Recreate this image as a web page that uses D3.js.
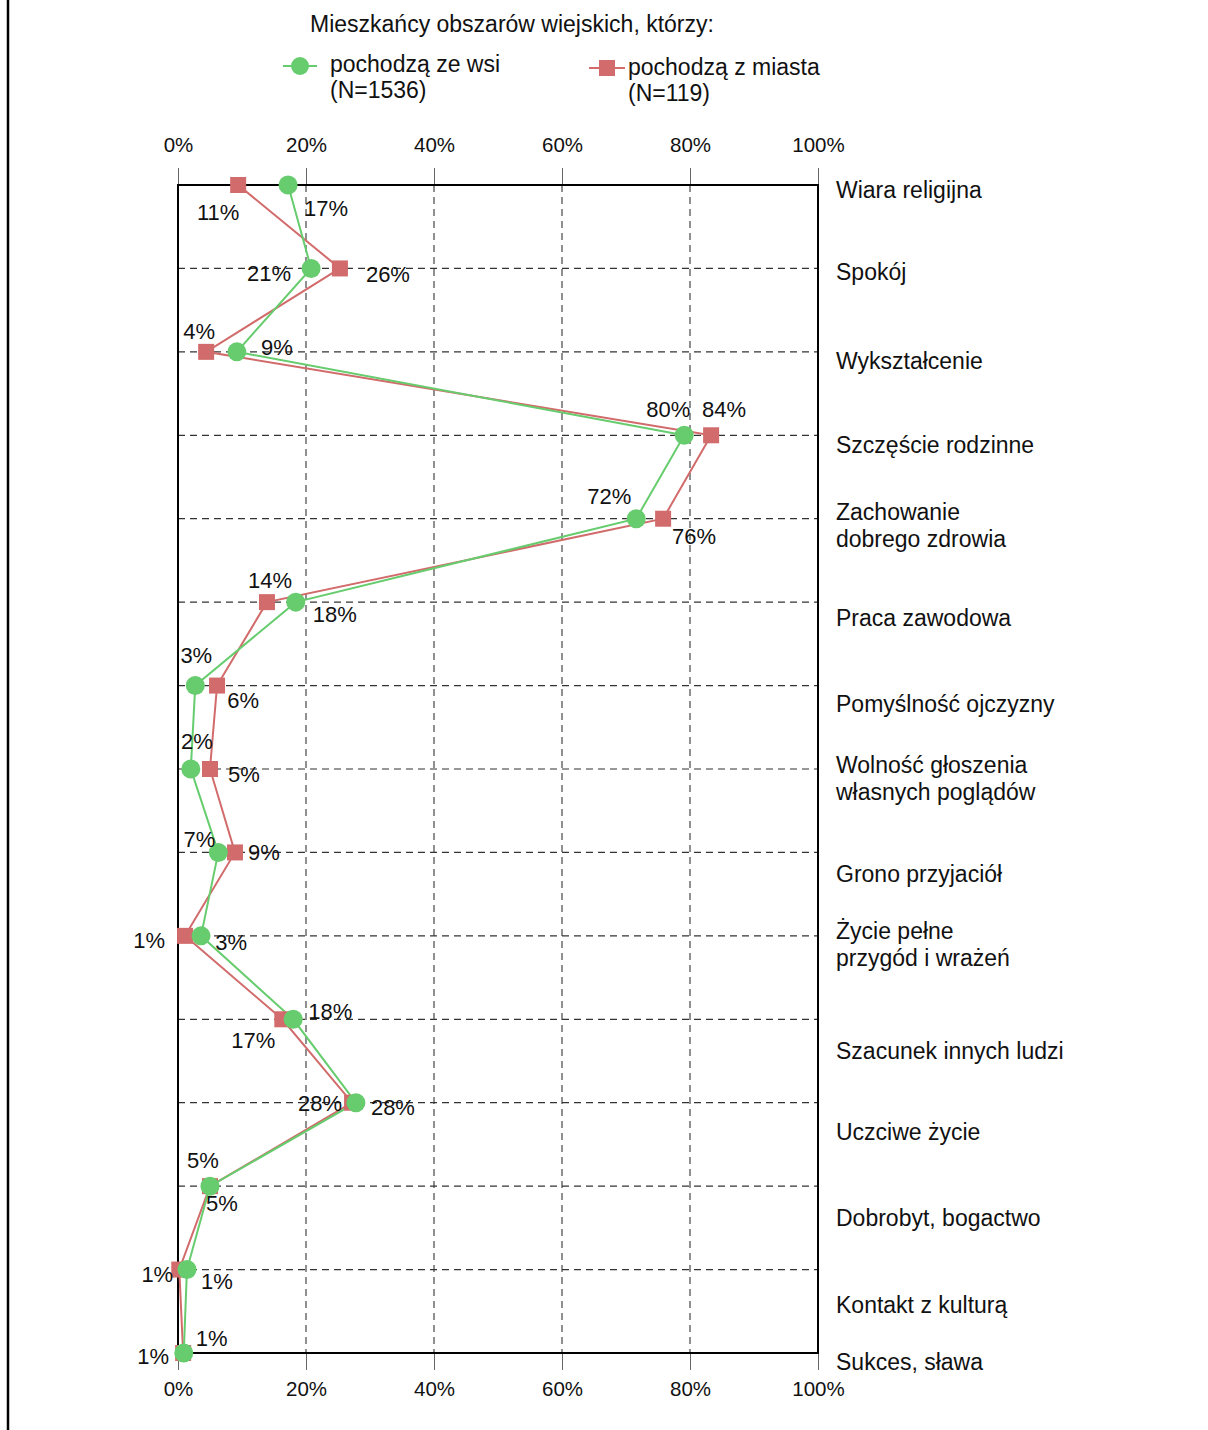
<!DOCTYPE html>
<html>
<head>
<meta charset="utf-8">
<script src="https://cdn.jsdelivr.net/npm/d3@7"></script>
<style>
  body { margin: 0; background: #fff; }
  text { font-family: "Liberation Sans", Arial, sans-serif; fill: #111; }
</style>
</head>
<body>
<div id="chart"></div>
<script>
// data
const categories = [
  "Wiara religijna", "Spokój", "Wykształcenie", "Szczęście rodzinne",
  "Zachowanie|dobrego zdrowia", "Praca zawodowa", "Pomyślność ojczyzny",
  "Wolność głoszenia|własnych poglądów", "Grono przyjaciół",
  "Życie pełne|przygód i wrażeń", "Szacunek innych ludzi", "Uczciwe życie",
  "Dobrobyt, bogactwo", "Kontakt z kulturą", "Sukces, sława"
];
const wsiValues =    [17.2, 20.8, 9.2, 79.1, 71.6, 18.4, 2.7, 2.0, 6.3, 3.6, 18.0, 27.8, 5.0, 1.4, 0.9];
const miastaValues = [9.4, 25.3, 4.4, 83.3, 75.8, 13.9, 6.1, 5.0, 8.9, 1.1, 16.3, 27.2, 5.0, 0.2, 0.8];
const wsiLabels =    ["17%", "21%", "9%", "80%", "72%", "18%", "3%", "2%", "7%", "3%", "18%", "28%", "5%", "1%", "1%"];
const miastaLabels = ["11%", "26%", "4%", "84%", "76%", "14%", "6%", "5%", "9%", "1%", "17%", "28%", "5%", "1%", "1%"];
const xTicks = [0, 20, 40, 60, 80, 100];

// label placement (px offsets from the marker)
const wsiOff = [[38,23],[-42,5],[40,-5],[-16,-26],[-27,-23],[39,12],[1,-31],[6,-28],[-19,-13],[30,6],[37,-8],[37,4],[12,17],[30,11],[28,-15]];
const miastaOff = [[-20,27],[48,6],[-7,-21],[13,-26],[31,17],[3,-22],[26,14],[34,5],[29,0],[-36,4],[-29,21],[-32,0],[-7,-26],[-22,4],[-30,3]];
const catLabelShift = [5, 4, 9, 10, 7, 16, 18, 9, 22, 9, 32, 29, 32, 35, 9];

const width = 1208, height = 1430;
const margin = { top: 185, right: 390, bottom: 77, left: 178 };
const green = "#66cc6e", red = "#d26b6b";

const svg = d3.select("#chart").append("svg")
  .attr("width", width).attr("height", height);

// left border line
svg.append("line").attr("x1", 8).attr("x2", 8).attr("y1", 0).attr("y2", height)
  .attr("stroke", "#000").attr("stroke-width", 2.5);

const x = d3.scaleLinear().domain([0, 100]).range([margin.left, width - margin.right]);
const y = d3.scalePoint().domain(d3.range(categories.length)).range([margin.top, height - margin.bottom]);

const x0 = x(0), x1 = x(100), y0 = margin.top, y1 = height - margin.bottom;

// grid
const grid = svg.append("g");
grid.selectAll(".vg").data(xTicks.slice(1, -1)).join("line")
  .attr("x1", d => x(d)).attr("x2", d => x(d)).attr("y1", y0).attr("y2", y1)
  .attr("stroke", "#555").attr("stroke-width", 1.3).attr("stroke-dasharray", "7,5");
grid.selectAll(".hg").data(d3.range(1, categories.length - 1)).join("line")
  .attr("x1", x0).attr("x2", x1).attr("y1", d => y(d)).attr("y2", d => y(d))
  .attr("stroke", "#333").attr("stroke-width", 1.2).attr("stroke-dasharray", "7,5");

// axes
svg.append("g").attr("transform", `translate(0,${y0})`)
  .call(d3.axisTop(x).tickValues(xTicks).tickFormat(d => d + "%").tickSize(17).tickPadding(16))
  .call(g => g.select(".domain").remove())
  .call(g => g.selectAll("line").attr("stroke", "#666"))
  .call(g => g.selectAll("text").style("font-size", "20.5px").attr("fill", "#111"));
svg.append("g").attr("transform", `translate(0,${y1})`)
  .call(d3.axisBottom(x).tickValues(xTicks).tickFormat(d => d + "%").tickSize(17).tickPadding(11))
  .call(g => g.select(".domain").remove())
  .call(g => g.selectAll("line").attr("stroke", "#666"))
  .call(g => g.selectAll("text").style("font-size", "20.5px").attr("fill", "#111"));

// frame
svg.append("rect").attr("x", x0).attr("y", y0).attr("width", x1 - x0).attr("height", y1 - y0)
  .attr("fill", "none").attr("stroke", "#000").attr("stroke-width", 2);

// category labels
const cat = svg.append("g");
categories.forEach((c, i) => {
  const lines = c.split("|");
  const t = cat.append("text").attr("x", 836).style("font-size", "23px");
  const top = y(i) + catLabelShift[i] - (lines.length - 1) * 13.5 + 8;
  lines.forEach((l, j) => t.append("tspan").attr("x", 836).attr("y", top + j * 27).text(l));
});

// lines
const line = d3.line().x(d => x(d[0])).y(d => y(d[1]));
svg.append("path").datum(miastaValues.map((v, i) => [v, i]))
  .attr("fill", "none").attr("stroke", red).attr("stroke-width", 2).attr("d", line);
svg.append("path").datum(wsiValues.map((v, i) => [v, i]))
  .attr("fill", "none").attr("stroke", green).attr("stroke-width", 2).attr("d", line);

// markers
svg.selectAll(".sq").data(miastaValues).join("rect")
  .attr("x", d => x(d) - 8).attr("y", (d, i) => y(i) - 8)
  .attr("width", 16).attr("height", 16).attr("fill", red);
svg.selectAll(".ci").data(wsiValues).join("circle")
  .attr("cx", d => x(d)).attr("cy", (d, i) => y(i)).attr("r", 9.5).attr("fill", green);

// value labels
const lab = svg.append("g").style("font-size", "22px").attr("text-anchor", "middle");
wsiLabels.forEach((t, i) => lab.append("text")
  .attr("x", x(wsiValues[i]) + wsiOff[i][0]).attr("y", y(i) + wsiOff[i][1] + 8).text(t));
miastaLabels.forEach((t, i) => lab.append("text")
  .attr("x", x(miastaValues[i]) + miastaOff[i][0]).attr("y", y(i) + miastaOff[i][1] + 8).text(t));

// legend
svg.append("text").attr("x", 310).attr("y", 32).style("font-size", "23px")
  .text("Mieszkańcy obszarów wiejskich, którzy:");
const lg = svg.append("g").style("font-size", "23px");
lg.append("line").attr("x1", 283).attr("x2", 317).attr("y1", 66).attr("y2", 66).attr("stroke", green).attr("stroke-width", 2);
lg.append("circle").attr("cx", 300).attr("cy", 66).attr("r", 9).attr("fill", green);
lg.append("text").attr("x", 330).attr("y", 72).text("pochodzą ze wsi");
lg.append("text").attr("x", 330).attr("y", 98).text("(N=1536)");
lg.append("line").attr("x1", 589).attr("x2", 625).attr("y1", 68).attr("y2", 68).attr("stroke", red).attr("stroke-width", 2);
lg.append("rect").attr("x", 599).attr("y", 60).attr("width", 16).attr("height", 16).attr("fill", red);
lg.append("text").attr("x", 628).attr("y", 75).text("pochodzą z miasta");
lg.append("text").attr("x", 628).attr("y", 101).text("(N=119)");
</script>
</body>
</html>
